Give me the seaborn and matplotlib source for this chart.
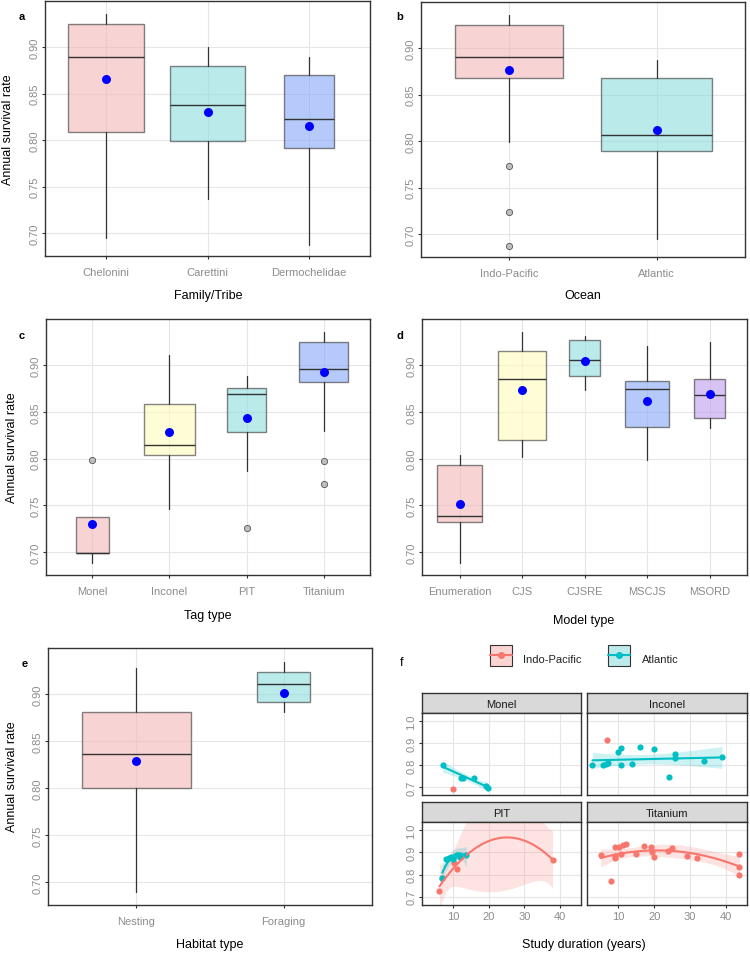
import numpy as np
import pandas as pd
import matplotlib
matplotlib.use("Agg")
import matplotlib.pyplot as plt
import seaborn as sns
from matplotlib.patches import Patch, Rectangle
from matplotlib.lines import Line2D
from matplotlib.legend_handler import HandlerTuple, HandlerPatch

# ---- values ----
# box stats: [lower whisker, q1, median, q3, upper whisker]
family = ["Chelonini", "Carettini", "Dermochelidae"]
family_box = [[0.695, 0.809, 0.889, 0.925, 0.936],
              [0.737, 0.799, 0.838, 0.880, 0.900],
              [0.687, 0.792, 0.823, 0.870, 0.889]]
family_mean = [0.866, 0.830, 0.815]
family_out = [[], [], []]

ocean = ["Indo-Pacific", "Atlantic"]
ocean_box = [[0.799, 0.868, 0.890, 0.925, 0.936],
             [0.695, 0.789, 0.807, 0.868, 0.887]]
ocean_mean = [0.876, 0.812]
ocean_out = [[0.773, 0.724, 0.687], []]

tag = ["Monel", "Inconel", "PIT", "Titanium"]
tag_box = [[0.688, 0.699, 0.699, 0.738, 0.738],
           [0.746, 0.804, 0.815, 0.858, 0.911],
           [0.787, 0.829, 0.869, 0.876, 0.889],
           [0.830, 0.882, 0.896, 0.925, 0.936]]
tag_mean = [0.730, 0.829, 0.844, 0.893]
tag_out = [[0.799], [], [0.726], [0.798, 0.773]]

model = ["Enumeration", "CJS", "CJSRE", "MSCJS", "MSORD"]
model_box = [[0.688, 0.732, 0.739, 0.793, 0.804],
             [0.802, 0.820, 0.885, 0.915, 0.936],
             [0.873, 0.888, 0.906, 0.927, 0.931],
             [0.799, 0.834, 0.875, 0.883, 0.921],
             [0.833, 0.844, 0.868, 0.885, 0.925]]
model_mean = [0.752, 0.873, 0.905, 0.862, 0.869]
model_out = [[], [], [], [], []]

habitat = ["Nesting", "Foraging"]
habitat_box = [[0.689, 0.800, 0.837, 0.881, 0.928],
               [0.881, 0.892, 0.911, 0.924, 0.935]]
habitat_mean = [0.829, 0.902]
habitat_out = [[], []]

# panel f: study duration (years) vs survival, per tag type and ocean
monel_atl_dur = [7.0, 12.3, 12.8, 15.9, 19.3, 19.8]
monel_atl_surv = [0.800, 0.742, 0.739, 0.742, 0.702, 0.697]
monel_ip_dur = [10.0]
monel_ip_surv = [0.691]

inconel_atl_dur = [2.7, 5.7, 6.5, 7.0, 9.8, 10.8, 10.8, 13.9, 16.0, 19.9,
                   24.1, 25.9, 25.9, 33.9, 38.9]
inconel_atl_surv = [0.800, 0.800, 0.805, 0.810, 0.860, 0.877, 0.800, 0.804,
                    0.882, 0.873, 0.746, 0.848, 0.833, 0.818, 0.838]
inconel_ip_dur = [6.8]
inconel_ip_surv = [0.913]

pit_atl_dur = [6.9, 7.9, 8.8, 9.3, 10.0, 10.9, 12.0, 13.7]
pit_atl_surv = [0.785, 0.870, 0.874, 0.879, 0.872, 0.890, 0.880, 0.890]
pit_ip_dur = [6.1, 6.9, 10.1, 11.1, 37.9]
pit_ip_surv = [0.726, 0.785, 0.852, 0.825, 0.868]

titanium_ip_dur = [5.0, 8.0, 9.0, 9.0, 9.1, 10.2, 10.8, 11.3, 12.1, 15.0, 17.1,
                   19.1, 19.3, 20.0, 23.9, 25.0, 29.1, 32.0, 43.8, 43.8, 43.8]
titanium_ip_surv = [0.888, 0.773, 0.926, 0.885, 0.877, 0.926, 0.891, 0.933, 0.938,
                    0.895, 0.930, 0.923, 0.900, 0.880, 0.906, 0.920, 0.882, 0.873,
                    0.891, 0.832, 0.798]

rows = []
for t, oc, d, s in [("Monel", "Atlantic", monel_atl_dur, monel_atl_surv),
                    ("Monel", "Indo-Pacific", monel_ip_dur, monel_ip_surv),
                    ("Inconel", "Atlantic", inconel_atl_dur, inconel_atl_surv),
                    ("Inconel", "Indo-Pacific", inconel_ip_dur, inconel_ip_surv),
                    ("PIT", "Indo-Pacific", pit_ip_dur, pit_ip_surv),
                    ("PIT", "Atlantic", pit_atl_dur, pit_atl_surv),
                    ("Titanium", "Indo-Pacific", titanium_ip_dur, titanium_ip_surv)]:
    for dd, ss in zip(d, s):
        rows.append({"tag": t, "ocean": oc, "duration": dd, "survival": ss})
studies = pd.DataFrame(rows)

# ---- style ----
sns.set_theme(style="white")
plt.rcParams["font.family"] = ["Liberation Sans", "DejaVu Sans"]

RED, TEAL = "#F8766D", "#00BFC4"
PINK, CYAN, BLUE = "#F3B6B6", "#8CDCDC", "#85A8F8"
YELLOW, PURPLE = "#FFFCBB", "#BE9DEE"
DARK, GREY_TXT, GRID = "#333333", "#8C8C8C", "#E6E6E6"

W, H = 750, 954
fig = plt.figure(figsize=(W / 100, H / 100), dpi=100)


def px_axes(l, t, r, b):
    return fig.add_axes([l / W, 1 - b / H, (r - l) / W, (b - t) / H])


def style_axes(ax):
    for sp in ax.spines.values():
        sp.set_color(DARK)
        sp.set_linewidth(1.0)
    ax.grid(True, color=GRID, lw=0.8)
    ax.set_axisbelow(True)
    ax.tick_params(bottom=True, left=True, direction="out", length=2.5, width=0.8,
                   color=DARK, labelcolor=GREY_TXT, labelsize=8)
    ax.tick_params(axis="y", labelrotation=90, pad=1.5)


def box_panel(ax, labels, box, means, outs, widths, fills):
    stats = [dict(whislo=b[0], q1=b[1], med=b[2], q3=b[3], whishi=b[4], fliers=o)
             for b, o in zip(box, outs)]
    pos = list(range(len(labels)))
    art = ax.bxp(stats, positions=pos, widths=widths, patch_artist=True, showcaps=False,
                 boxprops=dict(edgecolor=DARK, linewidth=1.0),
                 whiskerprops=dict(color=DARK, linewidth=0.9),
                 medianprops=dict(color=DARK, linewidth=1.0),
                 flierprops=dict(marker="o", markerfacecolor="#BEBEBE", markeredgecolor="#555555",
                                 markersize=4.5, markeredgewidth=0.6))
    for patch, fc in zip(art["boxes"], fills):
        patch.set_facecolor(fc)
        patch.set_alpha(0.6)
        patch.set_edgecolor(DARK)
    sns.scatterplot(x=pos, y=means, color="blue", s=42, linewidth=0, ax=ax, zorder=5)
    style_axes(ax)
    ax.set_xlim(-0.6, len(labels) - 0.4)
    ax.set_ylim(0.6755, 0.9495)
    ax.set_xticks(pos)
    ax.set_xticklabels(labels)
    ax.set_yticks([0.70, 0.75, 0.80, 0.85, 0.90])
    ax.set_yticklabels(["0.70", "0.75", "0.80", "0.85", "0.90"])
    ax.tick_params(axis="x", pad=5.5)
    for lbl in ax.get_yticklabels():
        lbl.set_va("center")
    ax.set_xlabel("")
    ax.set_ylabel("")


panels = [
    ((45, 2, 370, 257), family, family_box, family_mean, family_out,
     [0.75, 0.73, 0.49], [PINK, CYAN, BLUE]),
    ((421, 3, 745, 258), ocean, ocean_box, ocean_mean, ocean_out,
     [0.735, 0.75], [PINK, CYAN]),
    ((46, 320, 370, 576), tag, tag_box, tag_mean, tag_out,
     [0.43, 0.65, 0.50, 0.63], [PINK, YELLOW, CYAN, BLUE]),
    ((422, 320, 747, 576), model, model_box, model_mean, model_out,
     [0.72, 0.755, 0.49, 0.70, 0.49], [PINK, YELLOW, CYAN, BLUE, PURPLE]),
    ((48, 649, 372, 906), habitat, habitat_box, habitat_mean, habitat_out,
     [0.745, 0.36], [PINK, CYAN]),
]
for rect, labels, box, means, outs, widths, fills in panels:
    box_panel(px_axes(*rect), labels, box, means, outs, widths, fills)

# axis titles and panel letters
for x, y, s in [(208, 296, "Family/Tribe"), (583, 296, "Ocean"), (208, 616, "Tag type"),
                (584, 621, "Model type"), (210, 945, "Habitat type"),
                (584, 945, "Study duration (years)")]:
    fig.text(x / W, 1 - y / H, s, ha="center", va="center", fontsize=9, color="black")
for x, y in [(8, 130), (12, 448), (12, 777)]:
    fig.text(x / W, 1 - y / H, "Annual survival rate", rotation=90, ha="center",
             va="center", fontsize=9, color="black")
for x, y, s, bold in [(22, 17, "a", True), (400, 17, "b", True), (22, 336, "c", True),
                      (400, 336, "d", True), (25, 664, "e", True), (402, 663, "f", False)]:
    fig.text(x / W, 1 - y / H, s, ha="center", va="center", fontsize=8 if bold else 9,
             weight="bold" if bold else "normal", color="black")


# ---- panel f: polynomial fits with 95% confidence band ----
def t975(dof):
    try:
        from scipy import stats
        return float(stats.t.ppf(0.975, dof))
    except ImportError:
        table = {1: 12.706, 2: 4.303, 3: 3.182, 4: 2.776, 5: 2.571, 6: 2.447, 7: 2.365,
                 8: 2.306, 9: 2.262, 10: 2.228, 11: 2.201, 12: 2.179, 13: 2.160,
                 14: 2.145, 15: 2.131, 16: 2.120, 17: 2.110, 18: 2.101, 19: 2.093}
        return table[dof]


def poly_band(x, y, xs, order):
    X = np.vander(x, order + 1)
    inv = np.linalg.inv(X.T @ X)
    beta = inv @ X.T @ y
    resid = y - X @ beta
    dof = len(x) - order - 1
    s2 = resid @ resid / dof
    G = np.vander(xs, order + 1)
    fit = G @ beta
    se = np.sqrt(s2 * np.einsum("ij,jk,ik->i", G, inv, G))
    return fit - t975(dof) * se, fit + t975(dof) * se


# facet: strip top, strip bottom, panel bottom, left/right, axis labels, fit order
facets = {"Monel": (422, 694, 581, 714, 796, True, False, 1),
          "Inconel": (587, 694, 747, 714, 796, False, False, 1),
          "PIT": (422, 803, 581, 823, 906, True, True, 2),
          "Titanium": (587, 803, 747, 823, 906, False, True, 2)}

for name, (l, st, r, sb, b, ylab, xlab, order) in facets.items():
    strip = px_axes(l, st, r, sb)
    strip.set_facecolor("#D9D9D9")
    strip.set_xticks([])
    strip.set_yticks([])
    for sp in strip.spines.values():
        sp.set_color(DARK)
        sp.set_linewidth(1.0)
    strip.text(0.5, 0.45, name, ha="center", va="center", fontsize=8, color="#1A1A1A",
               transform=strip.transAxes)

    ax = px_axes(l, sb, r, b)
    for oc, col in [("Indo-Pacific", RED), ("Atlantic", TEAL)]:
        sub = studies[(studies["tag"] == name) & (studies["ocean"] == oc)]
        if len(sub) == 0:
            continue
        x = sub["duration"].to_numpy()
        y = sub["survival"].to_numpy()
        if len(sub) > order + 2:
            xs = np.linspace(x.min(), x.max(), 100)
            lo, hi = poly_band(x, y, xs, order)
            ax.fill_between(xs, lo, hi, color=col, alpha=0.2, lw=0, zorder=2)
            sns.regplot(x=x, y=y, order=order, ci=None, color=col, ax=ax, truncate=True,
                        scatter_kws=dict(s=20, linewidths=0, alpha=1, zorder=3),
                        line_kws=dict(lw=1.5, zorder=4))
        else:
            sns.scatterplot(x=x, y=y, color=col, s=20, linewidth=0, ax=ax, zorder=3)
    style_axes(ax)
    ax.set_xlim(1.2, 45.9)
    ax.set_ylim(0.663, 1.037)
    ax.set_xticks([10, 20, 30, 40])
    ax.set_yticks([0.7, 0.8, 0.9, 1.0])
    ax.set_xlabel("")
    ax.set_ylabel("")
    ax.tick_params(axis="x", pad=2, bottom=xlab, labelbottom=xlab)
    ax.tick_params(axis="y", left=ylab, labelleft=ylab)
    if ylab:
        ax.set_yticklabels(["0.7", "0.8", "0.9", "1.0"])
        for lbl in ax.get_yticklabels():
            lbl.set_va("center")


# legend key: square box centred on the same height as the line glyph
def key_rect(legend, orig_handle, xdescent, ydescent, width, height, fontsize):
    yc = (height - ydescent) / 2
    side = 14.5
    return Rectangle((-xdescent, yc - side / 2), width, side)


handles = [(Patch(facecolor="#FAD5D2", edgecolor=DARK, lw=0.8),
            Line2D([], [], color=RED, lw=1.5, marker="o", ms=4)),
           (Patch(facecolor="#BDEBEC", edgecolor=DARK, lw=0.8),
            Line2D([], [], color=TEAL, lw=1.5, marker="o", ms=4))]
fig.legend(handles, ["Indo-Pacific", "Atlantic"],
           handler_map={tuple: HandlerTuple(ndivide=1), Patch: HandlerPatch(patch_func=key_rect)},
           ncol=2, frameon=False, fontsize=8, handlelength=2.0, handleheight=2.0,
           handletextpad=1.0, columnspacing=2.4, loc="center",
           bbox_to_anchor=(584 / W, 1 - 659 / H), labelcolor="#222222")

fig.savefig("out.png", dpi=100)
